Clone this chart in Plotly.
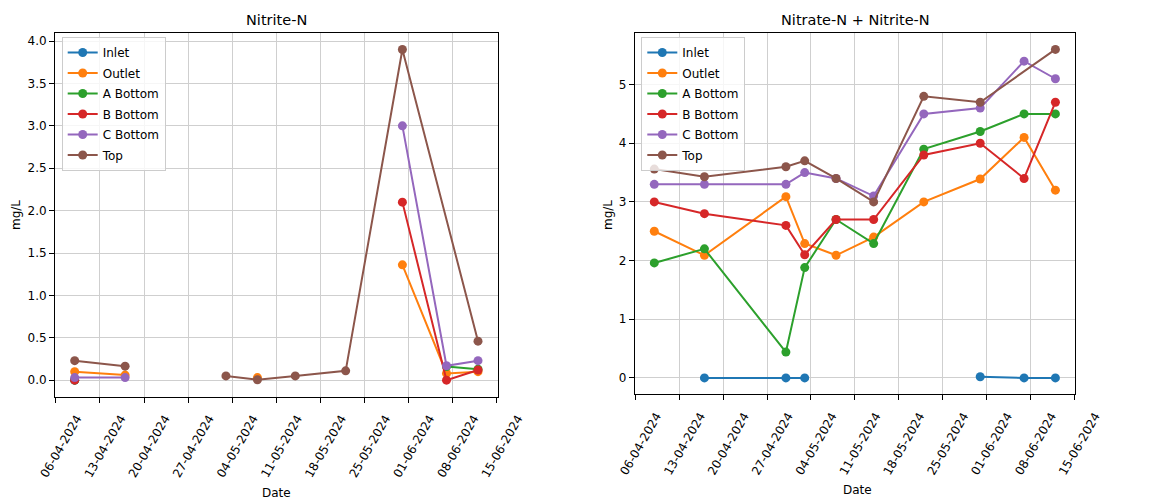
import plotly.graph_objects as go

# Sampling dates (Top has no sample on 07-06)
DATES = ["2024-04-09", "2024-04-17", "2024-04-30", "2024-05-03", "2024-05-08",
         "2024-05-14", "2024-05-22", "2024-05-31", "2024-06-07", "2024-06-12"]
DATES_TOP = ["2024-04-09", "2024-04-17", "2024-04-30", "2024-05-03", "2024-05-08",
             "2024-05-14", "2024-05-22", "2024-05-31", "2024-06-12"]

SERIES = ["Inlet", "Outlet", "A Bottom", "B Bottom", "C Bottom", "Top"]
COLORS = ["#1f77b4", "#ff7f0e", "#2ca02c", "#d62728", "#9467bd", "#8c564b"]

# Nitrite-N (mg/L)
nitrite_inlet = [0.0, None, None, None, None, None, None, None, None, None]
nitrite_outlet = [0.10, 0.06, None, None, 0.03, None, None, 1.36, 0.08, 0.10]
nitrite_a = [0.0, None, None, None, None, None, None, None, 0.16, 0.13]
nitrite_b = [0.0, None, None, None, None, None, None, 2.10, 0.0, 0.12]
nitrite_c = [0.03, 0.03, None, None, None, None, None, 3.0, 0.17, 0.23]
nitrite_top = [0.23, 0.165, None, 0.05, 0.005, 0.05, 0.11, 3.9, 0.46]

# Nitrate-N + Nitrite-N (mg/L)
nox_inlet = [None, 0.0, 0.0, 0.0, None, None, None, 0.02, 0.0, 0.0]
nox_outlet = [2.5, 2.09, 3.09, 2.29, 2.09, 2.4, 3.0, 3.39, 4.1, 3.2]
nox_a = [1.96, 2.2, 0.44, 1.88, 2.7, 2.29, 3.9, 4.2, 4.5, 4.5]
nox_b = [3.0, 2.8, 2.6, 2.1, 2.7, 2.7, 3.8, 4.0, 3.4, 4.7]
nox_c = [3.3, 3.3, 3.3, 3.5, 3.4, 3.1, 4.5, 4.6, 5.4, 5.1]
nox_top = [3.56, 3.43, 3.6, 3.7, 3.4, 3.0, 4.8, 4.7, 5.6]

X_TICK0 = "2024-04-06"
X_RANGE = ["2024-04-05 21:00", "2024-06-15 03:00"]

FONT = "DejaVu Sans"
W, H = 1152, 503

fig = go.Figure()

panels = [
    ("x", "y", "legend", [nitrite_inlet, nitrite_outlet, nitrite_a, nitrite_b, nitrite_c, nitrite_top]),
    ("x2", "y2", "legend2", [nox_inlet, nox_outlet, nox_a, nox_b, nox_c, nox_top]),
]
for xa, ya, leg, values in panels:
    for name, color, vals in zip(SERIES, COLORS, values):
        xs = DATES_TOP if name == "Top" else DATES
        fig.add_trace(go.Scatter(
            x=xs, y=vals, name=name, mode="lines+markers",
            line=dict(color=color, width=2),
            marker=dict(color=color, size=9),
            xaxis=xa, yaxis=ya, legend=leg, legendgroup=f"{leg}-{name}",
            connectgaps=False,
        ))

grid = "#cfcfcf"
common_x = dict(
    type="date", range=X_RANGE, tick0=X_TICK0, dtick=7 * 86400000,
    tickformat="%d-%m-%Y", tickangle=-60, ticks="outside", ticklen=5,
    ticklabelshift=21, ticklabelstandoff=4,
    tickcolor="black", showline=True, linecolor="black", linewidth=1, mirror=True,
    showgrid=True, gridcolor=grid, gridwidth=1, zeroline=False, automargin=False,
    tickfont=dict(family=FONT, size=12, color="black"),
)
common_y = dict(
    ticks="outside", ticklen=5, tickcolor="black", showline=True,
    linecolor="black", linewidth=1, mirror=True, showgrid=True,
    gridcolor=grid, gridwidth=1, zeroline=False, automargin=False,
    tickfont=dict(family=FONT, size=12, color="black"),
)

x1 = [55 / W, 497.7 / W]
x2 = [634.7 / W, 1075 / W]
y1 = [1 - 396.7 / H, 1 - 33 / H]
y2 = [1 - 394.3 / H, 1 - 33 / H]

legend_style = dict(
    bgcolor="rgba(255,255,255,0.8)", bordercolor="#cccccc", borderwidth=1,
    font=dict(family=FONT, size=12, color="black"), itemwidth=30,
    xanchor="left", yanchor="top", tracegroupgap=1.5,
)

fig.update_layout(
    template="none",
    width=W, height=H, margin=dict(l=0, r=0, t=0, b=0, autoexpand=False),
    paper_bgcolor="white", plot_bgcolor="white",
    font=dict(family=FONT, size=12, color="black"),
    xaxis=dict(domain=x1, anchor="y", **common_x),
    yaxis=dict(domain=y1, anchor="x", range=[-0.195, 4.095], dtick=0.5,
               tickformat=".1f", **common_y),
    xaxis2=dict(domain=x2, anchor="y2", **common_x),
    yaxis2=dict(domain=y2, anchor="x2", range=[-0.28, 5.88], dtick=1, **common_y),
    legend=dict(x=61.7 / W, y=1 - 37 / H, **legend_style),
    legend2=dict(x=641.3 / W, y=1 - 37 / H, **legend_style),
    showlegend=True,
)

text_font = dict(family=FONT, size=12, color="black")
annotations = [
    dict(text="Nitrite-N", x=276 / W, y=1 - 20 / H, font=dict(family=FONT, size=14.5, color="black")),
    dict(text="Nitrate-N + Nitrite-N", x=855 / W, y=1 - 20 / H, font=dict(family=FONT, size=14.5, color="black")),
    dict(text="mg/L", x=16 / W, y=1 - 215 / H, textangle=-90, font=text_font),
    dict(text="mg/L", x=608 / W, y=1 - 215 / H, textangle=-90, font=text_font),
    dict(text="Date", x=276 / W, y=1 - 493 / H, font=text_font),
    dict(text="Date", x=857 / W, y=1 - 490 / H, font=text_font),
]
for a in annotations:
    fig.add_annotation(xref="paper", yref="paper", showarrow=False,
                       xanchor="center", yanchor="middle", **a)

fig.write_html("out.html")
